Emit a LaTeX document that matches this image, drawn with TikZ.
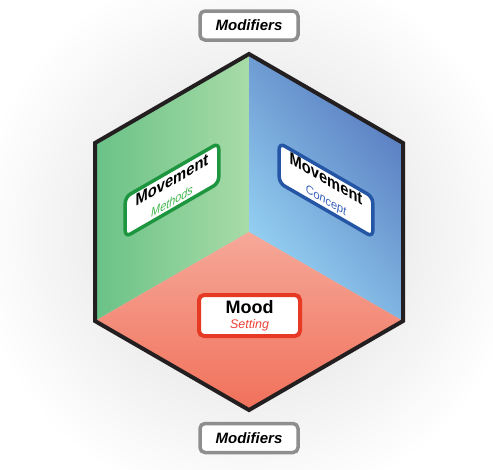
\documentclass[tikz,border=0pt]{standalone}
\usepackage{fontspec}
\setmainfont{Liberation Sans}
\definecolor{hexline}{HTML}{231F20}
\definecolor{modgray}{HTML}{8E8E8E}
\definecolor{greenL}{HTML}{6AC287}
\definecolor{greenR}{HTML}{A8DBA7}
\definecolor{blueD}{HTML}{5679BE}
\definecolor{blueL}{HTML}{98D6F5}
\definecolor{redT}{HTML}{F6A899}
\definecolor{redB}{HTML}{F1715B}
\definecolor{methborder}{HTML}{1E9640}
\definecolor{methtext}{HTML}{3DB54A}
\definecolor{concborder}{HTML}{2556A6}
\definecolor{conctext}{HTML}{3A62BC}
\definecolor{moodborder}{HTML}{E63A24}
\definecolor{moodtext}{HTML}{EF4136}
\begin{document}
\begin{tikzpicture}[x=1pt,y=-1pt,
  modbox/.style={draw=modgray, line width=3.5pt, rounded corners=5pt, fill=white,
    minimum width=98pt, minimum height=29pt, inner sep=0pt,
    font=\fontsize{15}{17}\selectfont\bfseries\itshape},
  labelbox/.style={line width=3.5pt, rounded corners=6pt, fill=white,
    minimum width=108pt, minimum height=40pt, inner sep=0pt, align=center,
    font=\fontsize{17}{15}\selectfont\bfseries}]
\useasboundingbox (0,0) rectangle (493,469);
\fill[white] (0,0) rectangle (493,469);
\shade[inner color=gray!30, outer color=white] (249,234) circle [radius=275pt];

\coordinate (T) at (249,54);
\coordinate (UL) at (95,143);
\coordinate (LL) at (95,321);
\coordinate (B) at (249,410);
\coordinate (LR) at (403,321);
\coordinate (UR) at (403,143);
\coordinate (C) at (249,232);

\shade[left color=greenL, right color=greenR] (T) -- (UL) -- (LL) -- (C) -- cycle;
\shade[top color=blueD, bottom color=blueL, shading angle=-50] (T) -- (UR) -- (LR) -- (C) -- cycle;
\shade[top color=redT, bottom color=redB] (C) -- (LL) -- (B) -- (LR) -- cycle;
\draw[hexline, line width=4pt] (T) -- (UR) -- (LR) -- (B) -- (LL) -- (UL) -- cycle;

\node[modbox] (modtop) at (249,25.5) {Modifiers};
\node[modbox] (modbot) at (249,438) {Modifiers};

\node[draw=moodborder, line width=4pt, rounded corners=5pt, fill=white,
    minimum width=101pt, minimum height=41pt, inner sep=0pt, align=center,
    font=\fontsize{18}{16}\selectfont\bfseries] (mood) at (249.5,315.5)
  {Mood\\[-1pt]{\mdseries\itshape\fontsize{12.5}{13}\selectfont\color{moodtext}Setting}};

\begin{scope}[shift={(172,190)}, cm={0.866,0.5,0,1,(0,0)}]
  \node[labelbox, draw=methborder, transform shape] (meth) at (0,0)
    {Movement\\[5pt]{\mdseries\itshape\fontsize{12.5}{13}\selectfont\color{methtext}Methods}};
\end{scope}
\begin{scope}[shift={(326,190)}, cm={0.866,-0.5,0,1,(0,0)}]
  \node[labelbox, draw=concborder, transform shape] (conc) at (0,0)
    {Movement\\[5pt]{\mdseries\itshape\fontsize{12.5}{13}\selectfont\color{conctext}Concept}};
\end{scope}
\end{tikzpicture}
\end{document}
